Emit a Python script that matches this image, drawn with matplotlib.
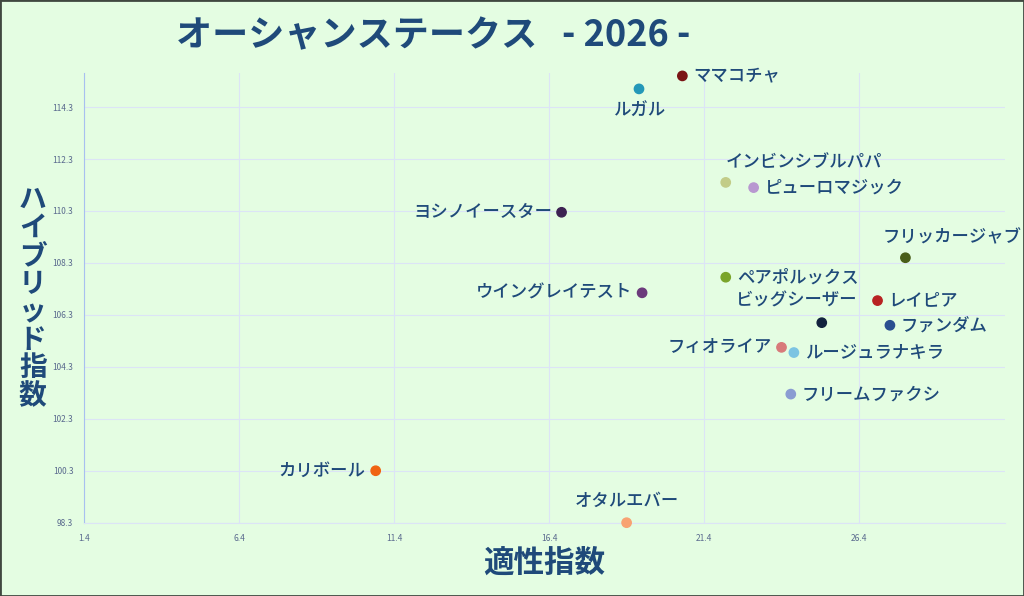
import matplotlib.pyplot as plt

plt.rcParams['font.family'] = ['Noto Sans CJK JP', 'DejaVu Sans']

horses = ["ママコチャ", "ルガル", "インビンシブルパパ", "ピューロマジック", "ヨシノイースター",
          "フリッカージャブ", "ペアポルックス", "ウイングレイテスト", "レイピア", "ビッグシーザー",
          "ファンダム", "フィオライア", "ルージュラナキラ", "フリームファクシ", "カリボール", "オタルエバー"]
aptitude = [20.7, 19.3, 22.1, 23.0, 16.8, 27.9, 22.1, 19.4, 27.0, 25.2,
            27.4, 23.9, 24.3, 24.2, 10.8, 18.9]
hybrid = [115.5, 115.0, 111.4, 111.2, 110.25, 108.5, 107.75, 107.15, 106.85, 106.0,
          105.9, 105.05, 104.85, 103.25, 100.3, 98.3]
colors = ["#7a1414", "#2398b8", "#c2cc88", "#b898d0", "#3c2252",
          "#4a5e1a", "#7aa42a", "#6c3a7c", "#b82222", "#12223e",
          "#2a4f90", "#d87a7a", "#7cc4e2", "#8a9cd2", "#f06412", "#f8a272"]

xticks = [1.4, 6.4, 11.4, 16.4, 21.4, 26.4]
yticks = [98.3, 100.3, 102.3, 104.3, 106.3, 108.3, 110.3, 112.3, 114.3]

# label placement: (dx px, dy px, ha)
place = {
    "ルガル": (0, -22, "center"),
    "インビンシブルパパ": (0, 20, "left"),
    "ヨシノイースター": (-9, 0, "right"),
    "フリッカージャブ": (-23, 20, "left"),
    "ウイングレイテスト": (-10, 0, "right"),
    "ビッグシーザー": (-25, 22, "center"),
    "フィオライア": (-10, 0, "right"),
    "カリボール": (-10, 0, "right"),
    "オタルエバー": (0, 22, "center"),
}

bg = "#e4fde2"
navy = "#1f4a7a"

fig = plt.figure(figsize=(10.24, 5.96), dpi=100, facecolor=bg)
ax = fig.add_axes([0.0825, 0.123, 0.8985, 0.754])
ax.set_facecolor(bg)

ax.scatter(aptitude, hybrid, c=colors, s=45, zorder=3, clip_on=False)

for name, x, y in zip(horses, aptitude, hybrid):
    dx, dy, ha = place.get(name, (11, 0, "left"))
    ax.annotate(name, (x, y), xytext=(dx * 0.72, dy * 0.72), textcoords="offset points",
                ha=ha, va="center", fontsize=12.5, fontweight="medium", color=navy, zorder=4)

ax.set_xlim(1.4, 31.1)
ax.set_ylim(98.3, 115.6)
ax.set_xticks(xticks)
ax.set_yticks(yticks)
ax.set_xticklabels([str(t) for t in xticks])
ax.set_yticklabels([str(t) for t in yticks])
ax.tick_params(length=0, labelsize=6, labelcolor="#5a6a8e", pad=8)
ax.grid(True, color="#dce4f6", linewidth=0.8)
ax.set_axisbelow(True)
for s in ["top", "right"]:
    ax.spines[s].set_visible(False)
ax.spines["bottom"].set_color("#dce4f6")
ax.spines["left"].set_color("#a8c0f0")

fig.text(0.423, 0.94, "オーシャンステークス   - 2026 -", ha="center", va="center",
         fontsize=26, fontweight="bold", color=navy)
fig.text(0.531, 0.055, "適性指数", ha="center", va="center",
         fontsize=22, fontweight="bold", color=navy)
fig.text(0.032, 0.5, "\n".join("ハイブリッド指数"), ha="center", va="center",
         fontsize=20, fontweight="bold", color=navy, linespacing=1.0)

fig.patches.append(plt.Rectangle((0, 0), 1, 1, transform=fig.transFigure, fill=False,
                                 edgecolor="#404840", linewidth=2))

fig.savefig("out.png", dpi=100, facecolor=bg)
